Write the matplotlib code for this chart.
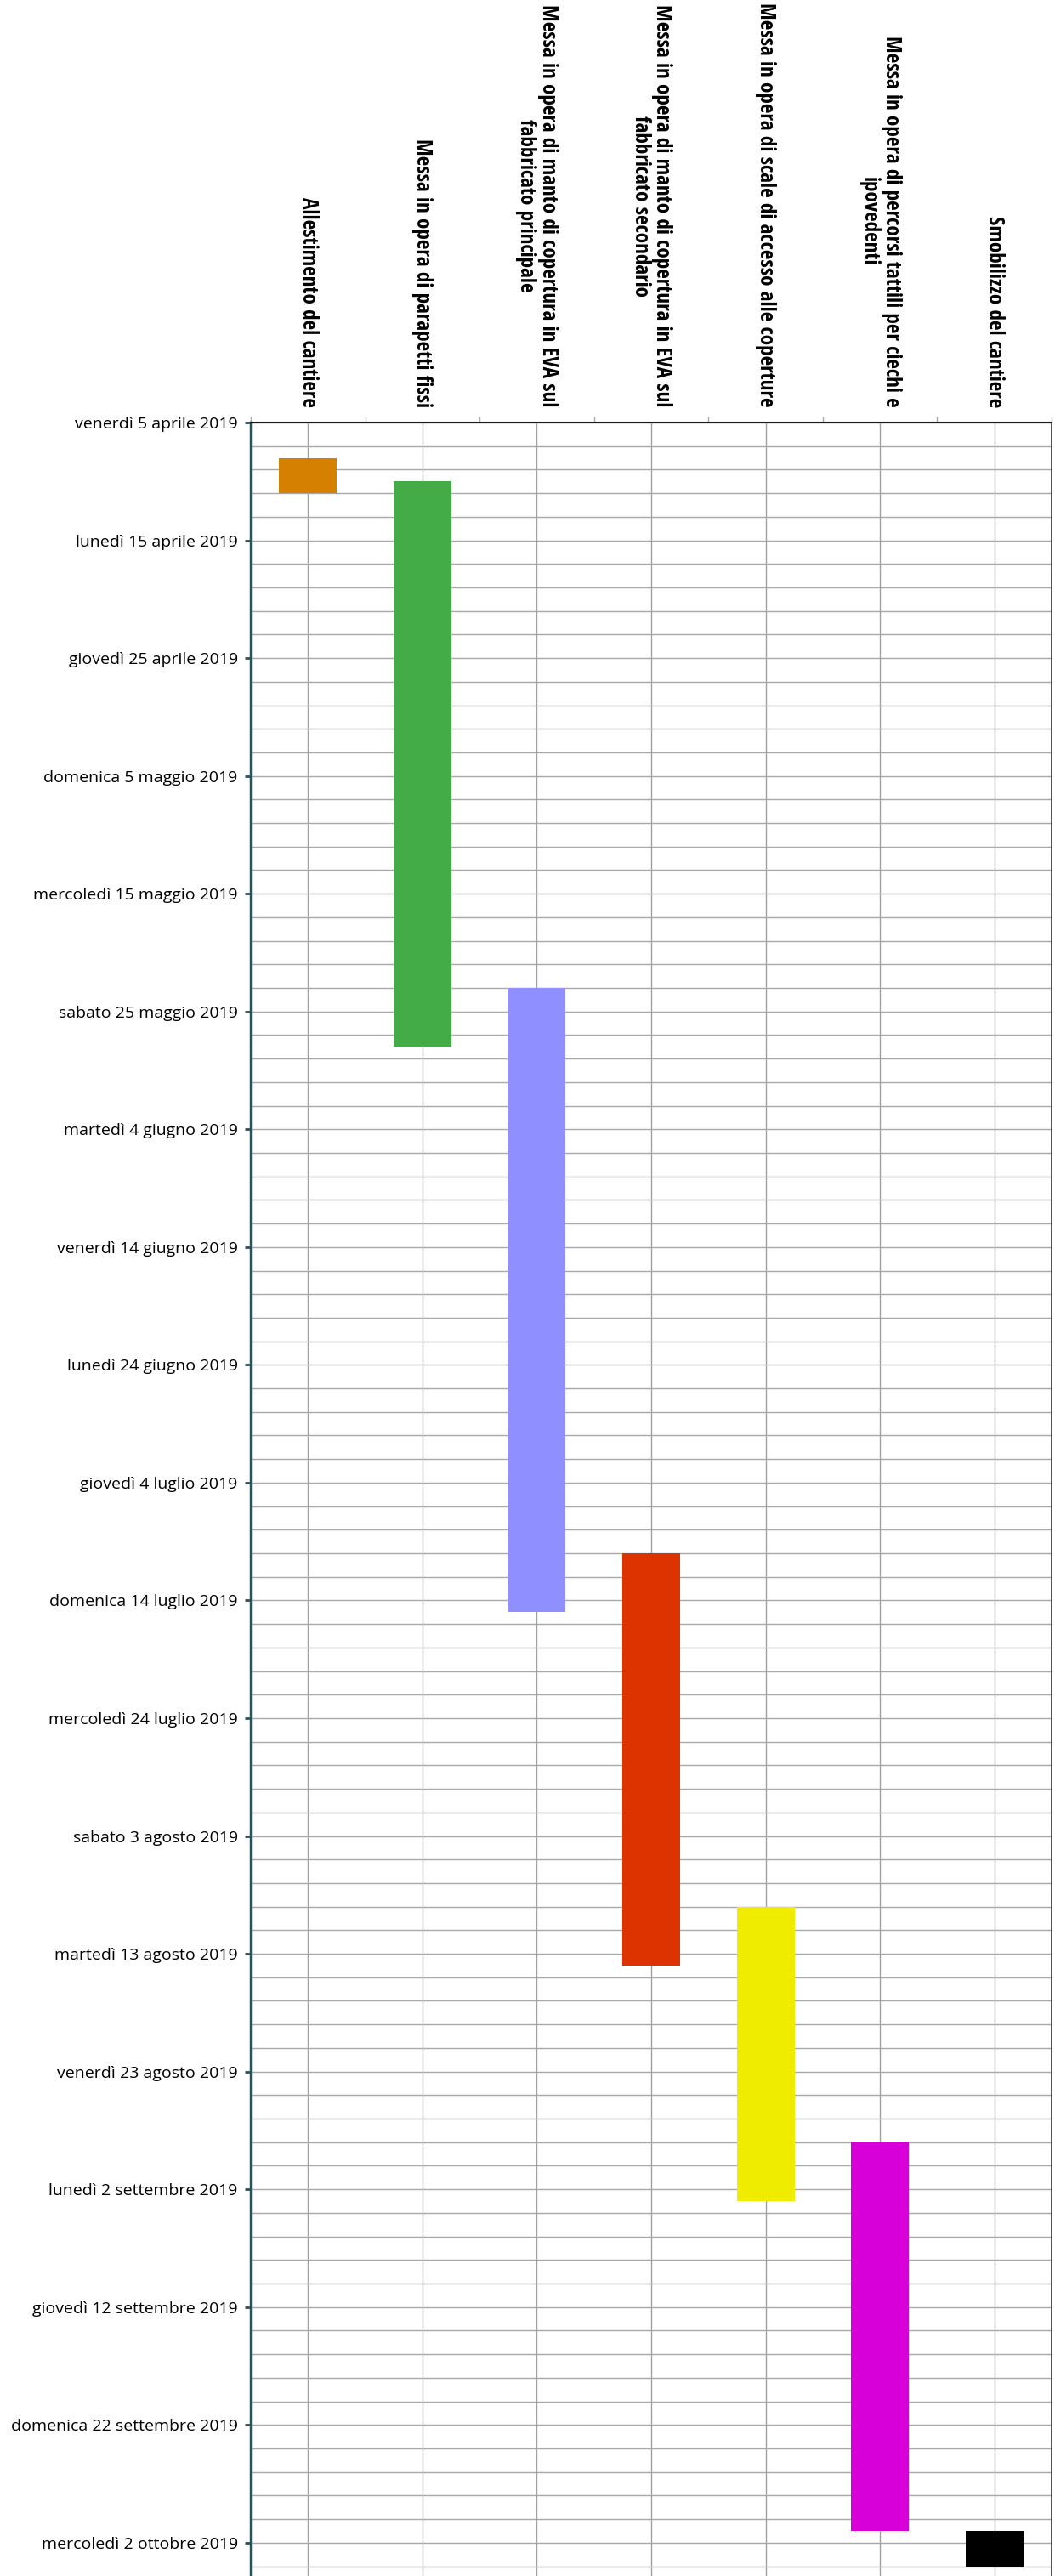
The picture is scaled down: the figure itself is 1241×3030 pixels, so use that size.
import matplotlib
matplotlib.use("Agg")
import matplotlib.pyplot as plt
import matplotlib.dates as mdates
import numpy as np
import pandas as pd
from matplotlib.ticker import FixedLocator, FuncFormatter

# Gantt data
tasks = [
    "Allestimento del cantiere",
    "Messa in opera di parapetti fissi",
    "Messa in opera di manto di copertura in EVA sul\nfabbricato principale",
    "Messa in opera di manto di copertura in EVA sul\nfabbricato secondario",
    "Messa in opera di scale di accesso alle coperture",
    "Messa in opera di percorsi tattili per ciechi e\nipovedenti",
    "Smobilizzo del cantiere",
]
start_dates = ["2019-04-08", "2019-04-10", "2019-05-23", "2019-07-10",
               "2019-08-09", "2019-08-29", "2019-10-01"]
end_dates = ["2019-04-11", "2019-05-28", "2019-07-15", "2019-08-14",
             "2019-09-03", "2019-10-01", "2019-10-04"]
colors = ["#d68000", "#43ac47", "#8f8fff", "#dd3300",
          "#f0ec00", "#d800d8", "#000000"]

giorni = ["lunedì", "martedì", "mercoledì", "giovedì", "venerdì", "sabato", "domenica"]
mesi = ["gennaio", "febbraio", "marzo", "aprile", "maggio", "giugno", "luglio",
        "agosto", "settembre", "ottobre", "novembre", "dicembre"]

axis_start = pd.Timestamp("2019-04-05")
visible_days = 182.83

header_font = ["Open Sans Condensed", "DejaVu Sans"]
label_font = ["Open Sans", "DejaVu Sans"]

start = mdates.date2num(pd.to_datetime(start_dates))
end = mdates.date2num(pd.to_datetime(end_dates))
d0 = mdates.date2num(axis_start)

fig = plt.figure(figsize=(12.41, 30.30), dpi=100)
ax = fig.add_axes([295 / 1241, 0.0, 942 / 1241, (3030 - 497) / 3030])

# size the header font so that the first label is ~247 px long, as in the reference
renderer = fig.canvas.get_renderer()
probe = fig.text(0, 0, tasks[0], fontsize=16, family=header_font, weight="bold")
probe_w = probe.get_window_extent(renderer).width
probe.remove()
header_size = 16 * 247 / probe_w

x = np.arange(len(tasks))
ax.bar(x, end - start, bottom=start, width=0.505, color=colors, zorder=3)

ax.set_xlim(-0.5, len(tasks) - 0.5)
ax.set_ylim(d0 + visible_days, d0)

# y axis: labels every 10 days, grid every 2 days
major_y = d0 + np.arange(0, 190, 10)
minor_y = d0 + np.arange(0, 190, 2)
ax.yaxis.set_major_locator(FixedLocator(major_y))
ax.yaxis.set_minor_locator(FixedLocator(minor_y))


def it_date(v, pos=None):
    d = mdates.num2date(v)
    return f"{giorni[d.weekday()]} {d.day} {mesi[d.month - 1]} {d.year}"


ax.yaxis.set_major_formatter(FuncFormatter(it_date))
ax.tick_params(axis="y", which="major", length=5, width=2, color="#2e5058",
               pad=6, labelsize=14)
ax.tick_params(axis="y", which="minor", length=0)
for lbl in ax.get_yticklabels():
    lbl.set_family(label_font)
    lbl.set_color("#000000")

# x axis: task names on top, rotated
ax.xaxis.tick_top()
ax.set_xticks(x)
ax.set_xticklabels(tasks, rotation=270, fontsize=header_size,
                   family=header_font, weight="bold")
for lbl in ax.get_xticklabels():
    lbl.set_multialignment("center")
    lbl.set_color("#000000")
    lbl.set_linespacing(1.05)
ax.set_xticks(np.arange(-0.5, len(tasks)), minor=True)
ax.tick_params(axis="x", which="major", length=0, pad=13)
ax.tick_params(axis="x", which="minor", top=True, bottom=False,
               length=5, width=1, color="#aaaaaa")

ax.grid(axis="y", which="both", color="#a8a8a8", linewidth=1.0, zorder=0)
ax.grid(axis="x", which="major", color="#a0a0a0", linewidth=1.0, zorder=0)
ax.set_axisbelow(True)

ax.spines["left"].set_color("#2e5058")
ax.spines["left"].set_linewidth(2.5)
ax.spines["top"].set_color("#1a1a1a")
ax.spines["top"].set_linewidth(1.5)
ax.spines["right"].set_color("#333333")
ax.spines["right"].set_linewidth(1.2)
ax.spines["bottom"].set_visible(False)

fig.savefig("out.png", dpi=100)
